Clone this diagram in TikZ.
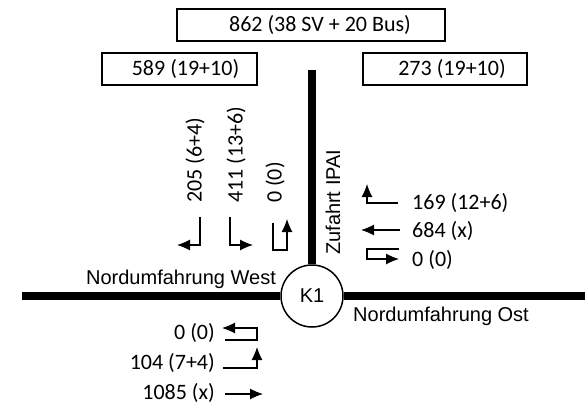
\documentclass[tikz,border=0pt]{standalone}
\usepackage{fontspec}
\setmainfont{Carlito}
\newfontfamily\arialfont{Liberation Sans}
\usetikzlibrary{arrows.meta}
\tikzset{
  num/.style={inner sep=0pt, font=\fontsize{22}{26}\selectfont},
  roadlabel/.style={inner sep=0pt, font=\arialfont\fontsize{20}{24}\selectfont},
  box/.style={draw, line width=1.8pt, inner sep=0pt},
  road/.style={line width=8pt},
  flow/.style={line width=1.1pt, -{Latex[length=13pt,width=11pt]}},
}
\begin{document}
\begin{tikzpicture}[x=1pt,y=-1pt]
\useasboundingbox (0,0) rectangle (585,406);
% boxes
\node[box, minimum width=268pt, minimum height=32pt] (topbox) at (311,25) {};
\node[num] (toptext) at ([xshift=9pt]topbox.center) {862 (38 SV + 20 Bus)};
\node[box, minimum width=155pt, minimum height=32pt] (leftbox) at (179.5,69) {};
\node[num] (lefttext) at ([xshift=6pt]leftbox.center) {589 (19+10)};
\node[box, minimum width=164pt, minimum height=32pt] (rightbox) at (445,69) {};
\node[num] (righttext) at ([xshift=7pt]rightbox.center) {273 (19+10)};
% roads and junction
\node[draw, circle, line width=1.5pt, minimum size=62pt, inner sep=0pt, fill=white,
      font=\arialfont\fontsize{20}{24}\selectfont] (K1) at (312,296) {K1};
\coordinate (ntop) at (312,70);
\coordinate (wend) at (22,296);
\coordinate (eend) at (585,296);
\draw[road] (ntop) -- (K1.north);
\draw[road] (wend) -- (K1.west);
\draw[road] (K1.east) -- (eend);
% road labels
\node[roadlabel] (west) at (181,279) {Nordumfahrung West};
\node[roadlabel] (ost) at (441,316) {Nordumfahrung Ost};
\node[roadlabel, rotate=90, anchor=west] (ipai) at (333,255) {Zufahrt IPAI};
% north approach labels
\node[num, rotate=90, anchor=west] (n1) at (195,203) {205 (6+4)};
\node[num, rotate=90, anchor=west] (n2) at (236,203) {411 (13+6)};
\node[num, rotate=90, anchor=west] (n3) at (275,203) {0 (0)};
\draw[flow] (200,217) -- (200,245) -- (177,245);
\draw[flow] (230,217) -- (230,245) -- (253,245);
\draw[flow] (273,223) -- (273,250) -- (287,250) -- (287,219);
% east approach labels
\node[num, anchor=west] (e1) at (412,203) {169 (12+6)};
\node[num, anchor=west] (e2) at (412,231) {684 (x)};
\node[num, anchor=west] (e3) at (412,260) {0 (0)};
\draw[flow] (398,203) -- (367,203) -- (367,184);
\draw[flow] (400,230) -- (361,230);
\draw[flow] (399,249) -- (367,249) -- (367,259) -- (399,259);
% west approach labels
\node[num, anchor=east] (w1) at (215,333) {0 (0)};
\node[num, anchor=east] (w2) at (215,363) {104 (7+4)};
\node[num, anchor=east] (w3) at (215,393) {1085 (x)};
\draw[flow] (225,340) -- (257,340) -- (257,328) -- (222,328);
\draw[flow] (223,368) -- (257,368) -- (257,347);
\draw[flow] (225,394) -- (263,394);
\end{tikzpicture}
\end{document}
